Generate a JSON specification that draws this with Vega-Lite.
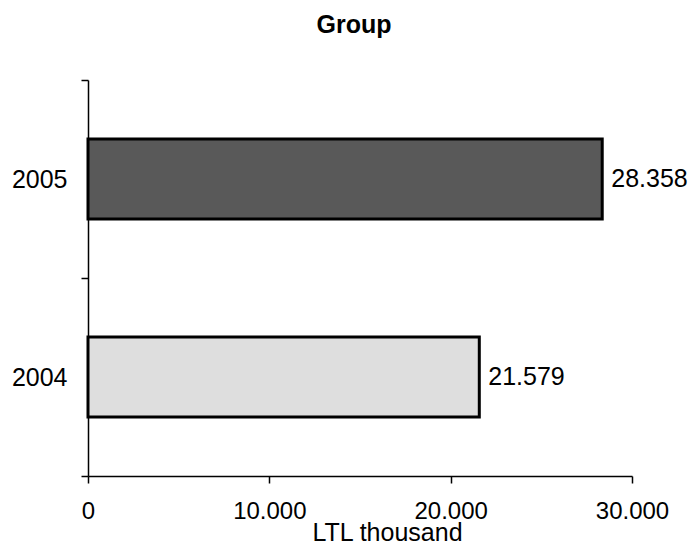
{
  "$schema": "https://vega.github.io/schema/vega-lite/v6.json",
  "autosize": "none",
  "width": 544,
  "height": 396,
  "padding": {"left": 88, "top": 80, "right": 62, "bottom": 73},
  "background": "white",
  "config": {
    "font": "Liberation Sans",
    "view": {"stroke": null},
    "locale": {"number": {"decimal": ",", "thousands": ".", "grouping": [3], "currency": ["", ""]}}
  },
  "title": {"text": "Group", "fontSize": 25, "fontWeight": "bold", "font": "Liberation Sans", "color": "black", "offset": 30, "anchor": "middle", "dx": -6},
  "data": {"values": [
    {"year": "2005", "value": 28358},
    {"year": "2004", "value": 21579}
  ]},
  "encoding": {
    "y": {"field": "year", "type": "nominal", "sort": ["2005", "2004"],
      "scale": {"paddingInner": 0, "paddingOuter": 0},
      "axis": {"title": null, "labelFontSize": 25, "labelColor": "black", "labelPadding": 14, "tickBand": "extent", "tickColor": "black", "domainColor": "black", "tickSize": 7, "domainWidth": 1.5, "tickWidth": 1.5}},
    "x": {"field": "value", "type": "quantitative",
      "scale": {"domain": [0, 30000], "nice": false},
      "axis": {"title": "LTL thousand", "titleFontSize": 25, "titleFontWeight": "normal", "titleColor": "black", "titlePadding": -3, "titleX": 299, "titleAlign": "center", "values": [0, 10000, 20000, 30000], "format": ",d", "labelFontSize": 24, "labelColor": "black", "labelPadding": 16, "labelFlush": false, "labelOverlap": false, "grid": false, "tickColor": "black", "domainColor": "black", "tickSize": 7, "domainWidth": 1.5, "tickWidth": 1.5}}
  },
  "layer": [
    {"mark": {"type": "bar", "stroke": "black", "strokeWidth": 3, "height": {"band": 0.404}},
      "encoding": {"color": {"field": "year", "type": "nominal", "scale": {"domain": ["2005", "2004"], "range": ["#595959", "#dedede"]}, "legend": null}}},
    {"mark": {"type": "text", "align": "left", "dx": 9, "fontSize": 25, "color": "black"},
      "encoding": {"text": {"field": "value", "type": "quantitative", "format": ",d"}}}
  ]
}
